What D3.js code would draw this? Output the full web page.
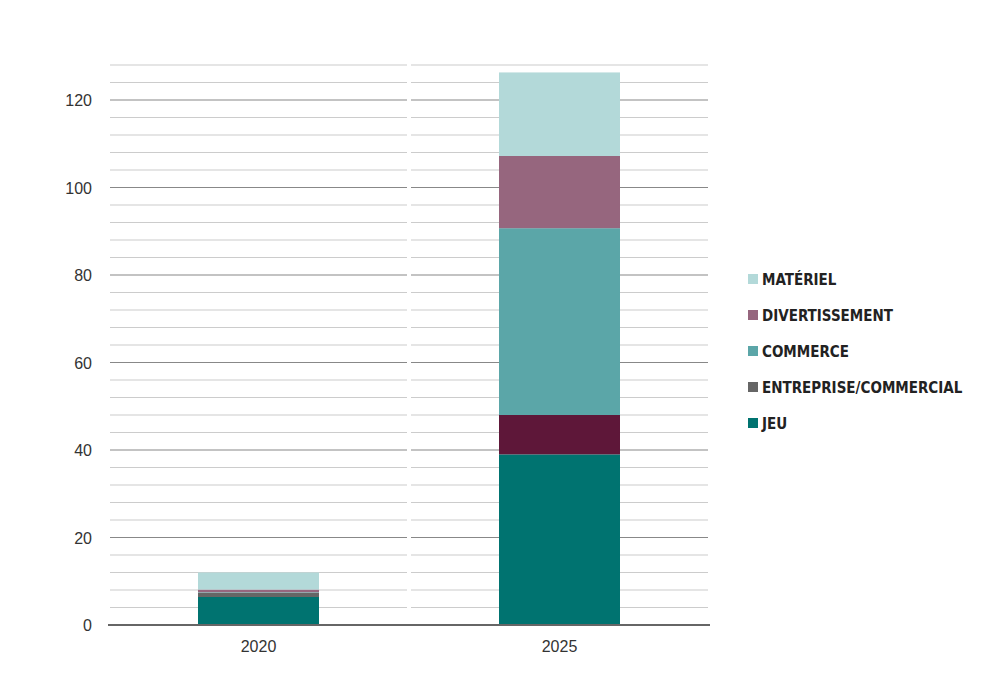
<!DOCTYPE html>
<html><head><meta charset="utf-8">
<script src="https://cdn.jsdelivr.net/npm/d3@7"></script>
<style>body{margin:0;background:#fff}</style>
</head><body>
<svg id="c" width="1003" height="682"></svg>
<script>
var years = ["2020", "2025"];
var series = ["JEU", "ENTREPRISE/COMMERCIAL", "COMMERCE", "DIVERTISSEMENT", "MATÉRIEL"];
var jeu = [6.4, 39.0];
var entreprise = [1.0, 9.0];
var commerce = [0.1, 42.7];
var divertissement = [0.6, 16.5];
var materiel = [3.9, 19.1];
var yTicks = [0, 20, 40, 60, 80, 100, 120];

var barColors = ["#007370", "#666666", "#5ba6a8", "#96667e", "#b3d9d9"];
var entrepriseColor2025 = "#5e1739";
var values = [jeu, entreprise, commerce, divertissement, materiel];

var svg = d3.select("#c");
var x = d3.scaleBand().domain(years).range([108, 710]);
var y = d3.scaleLinear().domain([0, 128]).range([625, 65]);

// grid: minor every 4, major every 20, split per category
years.forEach(function(yr) {
  var x0 = x(yr) + 2, x1 = x(yr) + x.bandwidth() - 2;
  d3.range(4, 129, 4).forEach(function(v) {
    var major = v % 20 === 0;
    svg.append("line").attr("x1", x0).attr("x2", x1)
      .attr("y1", y(v)).attr("y2", y(v))
      .attr("stroke", major ? "#888" : "#ccc").attr("stroke-width", 1.2);
  });
});

var stacked = [];
years.forEach(function(yr, i) {
  var base = 0;
  values.forEach(function(s, k) {
    stacked.push({yr: yr, k: k, y0: base, y1: base + s[i]});
    base += s[i];
  });
});

svg.selectAll("rect.bar").data(stacked).enter().append("rect")
  .attr("x", function(d) { return x(d.yr) + 90; })
  .attr("width", x.bandwidth() - 180)
  .attr("y", function(d) { return y(d.y1); })
  .attr("height", function(d) { return y(d.y0) - y(d.y1); })
  .attr("fill", function(d) {
    return (d.k === 1 && d.yr === "2025") ? entrepriseColor2025 : barColors[d.k];
  });

svg.append("line").attr("x1", 108).attr("x2", 710).attr("y1", y(0)).attr("y2", y(0))
  .attr("stroke", "#666").attr("stroke-width", 2);

svg.selectAll("text.yt").data(yTicks).enter().append("text")
  .attr("x", 92).attr("y", function(d) { return y(d) + 6; })
  .attr("text-anchor", "end").attr("font-family", "Liberation Sans, Arial, sans-serif")
  .attr("font-size", 16).attr("fill", "#333").text(function(d) { return d; });

svg.selectAll("text.xt").data(years).enter().append("text")
  .attr("x", function(d) { return x(d) + x.bandwidth() / 2; }).attr("y", 652)
  .attr("text-anchor", "middle").attr("font-family", "Liberation Sans, Arial, sans-serif")
  .attr("font-size", 16).attr("fill", "#333").text(function(d) { return d; });

var order = [4, 3, 2, 1, 0];
var lg = svg.append("g");
order.forEach(function(k, i) {
  var yy = 279 + i * 36;
  lg.append("rect").attr("x", 748).attr("y", yy - 5).attr("width", 10).attr("height", 10)
    .attr("fill", barColors[k]);
  lg.append("text").attr("x", 762).attr("y", yy + 6)
    .attr("font-family", "DejaVu Sans Condensed, Liberation Sans Narrow, sans-serif")
    .attr("font-weight", "bold").attr("font-size", 15).attr("fill", "#222")
    .attr("textLength", null)
    .text(series[k]);
});
</script>
</body></html>
